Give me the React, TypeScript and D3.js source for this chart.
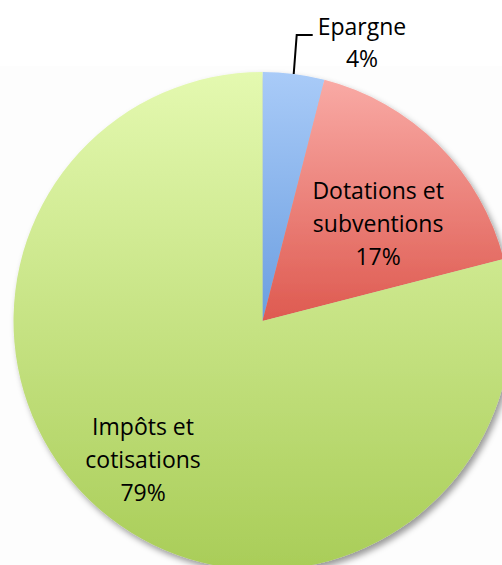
import { useEffect, useRef } from "react";
import * as d3 from "d3";

// slice data, clockwise from 12 o'clock
const categories = ["Epargne", "Dotations et subventions", "Impôts et cotisations"];
const values = [4, 17, 79];
const percentLabels = ["4%", "17%", "79%"];
const labelLines = [["Epargne"], ["Dotations et", "subventions"], ["Impôts et", "cotisations"]];
const topColors = ["#a9cbf8", "#f9aaa5", "#e4f9b0"];
const bottomColors = ["#6b9ee0", "#de5a50", "#a9cd58"];

const W = 502;
const H = 565;

const App = () => {
  const svgRef = useRef<SVGSVGElement>(null);

  useEffect(() => {
    const svg = d3.select(svgRef.current);
    svg.selectAll("*").remove();

    const cx = 262.5;
    const cy = 321;
    const r = 249;
    const lineH = 33;
    const fontSize = 23;
    const font = "'Open Sans', sans-serif";

    svg.append("rect")
      .attr("x", 0).attr("y", 66)
      .attr("width", W).attr("height", H - 66)
      .attr("fill", "#fdfdfd");

    const defs = svg.append("defs");
    const shadow = defs.append("filter")
      .attr("id", "shadow")
      .attr("x", "-10%").attr("y", "-10%")
      .attr("width", "120%").attr("height", "120%");
    shadow.append("feDropShadow")
      .attr("dx", 3).attr("dy", 4)
      .attr("stdDeviation", 3)
      .attr("flood-color", "#000")
      .attr("flood-opacity", 0.4);

    categories.forEach((c, i) => {
      const g = defs.append("linearGradient")
        .attr("id", "grad" + i)
        .attr("x1", 0).attr("y1", 0).attr("x2", 0).attr("y2", 1);
      g.append("stop").attr("offset", "0%").attr("stop-color", topColors[i]);
      g.append("stop").attr("offset", "100%").attr("stop-color", bottomColors[i]);
    });

    const pie = d3.pie<number>().sort(null).value((d) => d);
    const arcs = pie(values);
    const arc = d3.arc<d3.PieArcDatum<number>>().innerRadius(0).outerRadius(r);

    const chart = svg.append("g").attr("transform", `translate(${cx},${cy})`);

    const slices = chart.append("g").attr("filter", "url(#shadow)");
    slices.selectAll("path")
      .data(arcs)
      .join("path")
      .attr("d", arc)
      .attr("fill", (d, i) => `url(#grad${i})`);

    // inside labels
    const labelRadius = [0, 0.6, 0.75];
    const labelOffset = [[0, 0], [10, 10], [-5, -8]];
    arcs.forEach((d, i) => {
      if (i === 0) return;
      const la = d3.arc<d3.PieArcDatum<number>>()
        .innerRadius(r * labelRadius[i]).outerRadius(r * labelRadius[i]);
      const [x, y] = la.centroid(d);
      const lines = [...labelLines[i], percentLabels[i]];
      const t = chart.append("text")
        .attr("text-anchor", "middle")
        .attr("font-family", font)
        .attr("font-size", fontSize)
        .attr("fill", "#000");
      lines.forEach((s, k) => {
        t.append("tspan")
          .attr("x", x + labelOffset[i][0])
          .attr("y", y + labelOffset[i][1] + 7 + (k - (lines.length - 1) / 2) * lineH)
          .text(s);
      });
    });

    // outside label with leader for the small slice
    const outer = d3.arc<d3.PieArcDatum<number>>().innerRadius(r).outerRadius(r);
    const [px, py] = outer.centroid(arcs[0]);
    const elbowY = 35 - cy;
    chart.append("polyline")
      .attr("points", `${px},${py} ${px + 3},${elbowY} ${px + 19},${elbowY}`)
      .attr("fill", "none")
      .attr("stroke", "#000")
      .attr("stroke-width", 2);
    const t0 = chart.append("text")
      .attr("text-anchor", "middle")
      .attr("font-family", font)
      .attr("font-size", fontSize)
      .attr("fill", "#000");
    [...labelLines[0], percentLabels[0]].forEach((s, k) => {
      t0.append("tspan")
        .attr("x", 362 - cx)
        .attr("y", 35 - cy + k * 32)
        .text(s);
    });
  }, []);

  return (
    <svg
      ref={svgRef}
      width={W}
      height={H}
      style={{ position: "absolute", left: 0, top: 0, background: "#fff" }}
    />
  );
};

export default App;
